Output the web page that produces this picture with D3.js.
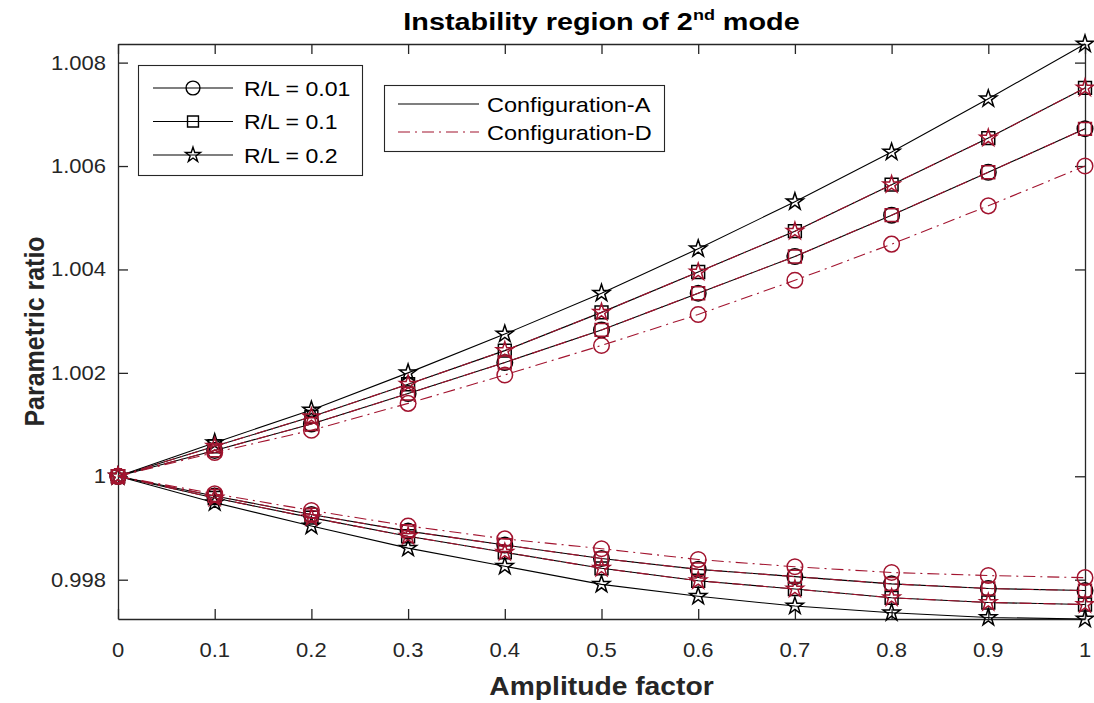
<!DOCTYPE html>
<html>
<head>
<meta charset="utf-8">
<script src="https://cdn.jsdelivr.net/npm/d3@7"></script>
<style>
  html, body { margin: 0; padding: 0; background: #fff; }
  svg { display: block; font-family: "Liberation Sans", Arial, Helvetica, sans-serif; }
</style>
</head>
<body>
<svg id="chart" width="1094" height="703"></svg>
<script>
// Amplitude factor sampled at eleven points
const amplitude = [0, 0.1, 0.2, 0.3, 0.4, 0.5, 0.6, 0.7, 0.8, 0.9, 1];

// Configuration-A, upper and lower boundaries of the instability region
const configA_upper_rl001 = [1, 1.00050, 1.00101, 1.00160, 1.00220, 1.00283, 1.00354, 1.00425, 1.00505, 1.00588, 1.00672];
const configA_upper_rl01  = [1, 1.00058, 1.00115, 1.00178, 1.00243, 1.00317, 1.00395, 1.00474, 1.00564, 1.00654, 1.00751];
const configA_upper_rl02  = [1, 1.00065, 1.00128, 1.00200, 1.00275, 1.00354, 1.00440, 1.00531, 1.00627, 1.00730, 1.00836];
const configA_lower_rl001 = [1, 0.99962, 0.99926, 0.99894, 0.99867, 0.99841, 0.99820, 0.99806, 0.99792, 0.99783, 0.99779];
const configA_lower_rl01  = [1, 0.99958, 0.99920, 0.99884, 0.99853, 0.99822, 0.99798, 0.99782, 0.99765, 0.99756, 0.99752];
const configA_lower_rl02  = [1, 0.99949, 0.99904, 0.99861, 0.99826, 0.99791, 0.99768, 0.99749, 0.99736, 0.99727, 0.99724];

// Configuration-D, upper and lower boundaries
const configD_upper_rl001 = [1, 1.00046, 1.00089, 1.00141, 1.00196, 1.00253, 1.00313, 1.00379, 1.00449, 1.00523, 1.00600];
const configD_upper_rl01  = [1, 1.00050, 1.00101, 1.00160, 1.00220, 1.00283, 1.00354, 1.00425, 1.00505, 1.00588, 1.00672];
const configD_upper_rl02  = [1, 1.00058, 1.00115, 1.00178, 1.00243, 1.00317, 1.00395, 1.00474, 1.00564, 1.00654, 1.00751];
const configD_lower_rl001 = [1, 0.99966, 0.99934, 0.99904, 0.99879, 0.99860, 0.99839, 0.99825, 0.99814, 0.99808, 0.99804];
const configD_lower_rl01  = [1, 0.99962, 0.99926, 0.99894, 0.99867, 0.99841, 0.99820, 0.99806, 0.99792, 0.99783, 0.99779];
const configD_lower_rl02  = [1, 0.99958, 0.99920, 0.99884, 0.99853, 0.99822, 0.99798, 0.99782, 0.99765, 0.99756, 0.99752];

const rlLabels = ["R/L = 0.01", "R/L = 0.1", "R/L = 0.2"];
const configLabels = ["Configuration-A", "Configuration-D"];
const xTicks = [0, 0.1, 0.2, 0.3, 0.4, 0.5, 0.6, 0.7, 0.8, 0.9, 1];
const yTicks = [0.998, 1, 1.002, 1.004, 1.006, 1.008];
const titleMain = "Instability region of 2";
const titleSup = "nd";
const titleEnd = " mode";
const xLabel = "Amplitude factor";
const yLabel = "Parametric ratio";

// ---- layout ----
const svg = d3.select("#chart");
const plot = { left: 118, right: 1085, top: 44, bottom: 619 };
const axisColor = "#262626";
const colorA = "#000000";
const colorD = "#A2142F";
const dashD = "12,5,2,5";

const allValues = [].concat(
  configA_upper_rl001, configA_upper_rl01, configA_upper_rl02,
  configA_lower_rl001, configA_lower_rl01, configA_lower_rl02,
  configD_upper_rl001, configD_upper_rl01, configD_upper_rl02,
  configD_lower_rl001, configD_lower_rl01, configD_lower_rl02);

const x = d3.scaleLinear().domain([0, 1]).range([plot.left, plot.right]);
const y = d3.scaleLinear().domain(d3.extent(allValues)).range([plot.bottom, plot.top]);

const markerShapes = [
  d3.symbol().type(d3.symbolCircle).size(190),
  d3.symbol().type(d3.symbolSquare).size(165),
  d3.symbol().type(d3.symbolStar).size(90)
];

// text helper: glyphs widened horizontally by sx
function label(g, px, py, str, opts) {
  return g.append("text")
    .attr("transform", `translate(${px},${py}) scale(${opts.sx},1)`)
    .attr("font-size", opts.size)
    .attr("font-weight", opts.weight || "normal")
    .attr("fill", opts.fill || axisColor)
    .attr("text-anchor", opts.anchor || "start")
    .text(str);
}

// ---- axes box and ticks ----
const axes = svg.append("g");
const tickLen = 10;
const xAxisBottom = d3.axisBottom(x).tickValues(xTicks).tickSizeInner(-tickLen).tickSizeOuter(0).tickFormat("");
const xAxisTop = d3.axisTop(x).tickValues(xTicks).tickSizeInner(-tickLen).tickSizeOuter(0).tickFormat("");
const yAxisLeft = d3.axisLeft(y).tickValues(yTicks).tickSizeInner(-tickLen).tickSizeOuter(0).tickFormat("");
const yAxisRight = d3.axisRight(y).tickValues(yTicks).tickSizeInner(-tickLen).tickSizeOuter(0).tickFormat("");

function styleAxis(sel) {
  sel.select(".domain").attr("stroke", axisColor).attr("stroke-width", 1.3);
  sel.selectAll(".tick line").attr("stroke", axisColor).attr("stroke-width", 1.3);
}
axes.append("g").attr("transform", `translate(0,${plot.bottom})`).call(xAxisBottom).call(styleAxis);
axes.append("g").attr("transform", `translate(0,${plot.top})`).call(xAxisTop).call(styleAxis);
axes.append("g").attr("transform", `translate(${plot.left},0)`).call(yAxisLeft).call(styleAxis);
axes.append("g").attr("transform", `translate(${plot.right},0)`).call(yAxisRight).call(styleAxis);

// tick labels
const fmtX = d => String(+d.toFixed(1));
const fmtY = d => String(+d.toFixed(3));
xTicks.forEach(v => label(axes, x(v), 657, fmtX(v), { size: 20, sx: 1.1, anchor: "middle" }));
yTicks.forEach(v => label(axes, plot.left - 12, y(v) + 7, fmtY(v), { size: 20, sx: 1.1, anchor: "end" }));

// ---- data series ----
const series = [
  { values: configA_upper_rl001, color: colorA, dash: null, shape: 0 },
  { values: configA_lower_rl001, color: colorA, dash: null, shape: 0 },
  { values: configA_upper_rl01,  color: colorA, dash: null, shape: 1 },
  { values: configA_lower_rl01,  color: colorA, dash: null, shape: 1 },
  { values: configA_upper_rl02,  color: colorA, dash: null, shape: 2 },
  { values: configA_lower_rl02,  color: colorA, dash: null, shape: 2 },
  { values: configD_upper_rl001, color: colorD, dash: dashD, shape: 0 },
  { values: configD_lower_rl001, color: colorD, dash: dashD, shape: 0 },
  { values: configD_upper_rl01,  color: colorD, dash: dashD, shape: 1 },
  { values: configD_lower_rl01,  color: colorD, dash: dashD, shape: 1 },
  { values: configD_upper_rl02,  color: colorD, dash: dashD, shape: 2 },
  { values: configD_lower_rl02,  color: colorD, dash: dashD, shape: 2 }
];

const line = d3.line().x((d, i) => x(amplitude[i])).y(d => y(d));
const plotG = svg.append("g");
series.forEach(s => {
  const g = plotG.append("g");
  g.append("path")
    .attr("d", line(s.values))
    .attr("fill", "none")
    .attr("stroke", s.color)
    .attr("stroke-width", 1.1)
    .attr("stroke-dasharray", s.dash);
  g.selectAll("path.mk").data(s.values).join("path")
    .attr("class", "mk")
    .attr("transform", (d, i) => `translate(${x(amplitude[i])},${y(d)})`)
    .attr("d", markerShapes[s.shape]())
    .attr("fill", "none")
    .attr("stroke", s.color)
    .attr("stroke-width", 1.5);
});

// ---- legend: R/L markers ----
const leg1 = svg.append("g");
leg1.append("rect").attr("x", 138.5).attr("y", 65.5).attr("width", 224).attr("height", 110)
  .attr("fill", "#fff").attr("stroke", axisColor).attr("stroke-width", 1.1);
const legendShapes = [
  d3.symbol().type(d3.symbolCircle).size(150),
  d3.symbol().type(d3.symbolSquare).size(120),
  d3.symbol().type(d3.symbolStar).size(70)
];
rlLabels.forEach((t, i) => {
  const ry = 88 + i * 33.5;
  leg1.append("line").attr("x1", 153).attr("x2", 233).attr("y1", ry).attr("y2", ry)
    .attr("stroke", "#000").attr("stroke-width", 1.1);
  leg1.append("path").attr("transform", `translate(193,${ry})`)
    .attr("d", legendShapes[i]()).attr("fill", "none").attr("stroke", "#000").attr("stroke-width", 1.4);
  label(leg1, 244, ry + 7.5, t, { size: 21, sx: 1.1, fill: "#000" });
});

// ---- legend: configurations ----
const leg2 = svg.append("g");
leg2.append("rect").attr("x", 384.5).attr("y", 85.5).attr("width", 280).attr("height", 66)
  .attr("fill", "#fff").attr("stroke", axisColor).attr("stroke-width", 1.1);
configLabels.forEach((t, i) => {
  const ry = 104 + i * 28;
  leg2.append("line").attr("x1", 398).attr("x2", 479).attr("y1", ry).attr("y2", ry)
    .attr("stroke", i === 0 ? colorA : colorD).attr("stroke-width", 1.1)
    .attr("stroke-dasharray", i === 0 ? null : dashD);
  label(leg2, 487, ry + 7.5, t, { size: 21, sx: 1.12, fill: "#000" });
});

// ---- titles ----
const title = svg.append("text")
  .attr("transform", `translate(${(plot.left + plot.right) / 2},30) scale(1.2,1)`)
  .attr("text-anchor", "middle")
  .attr("font-size", 24)
  .attr("font-weight", "bold")
  .attr("fill", "#000");
title.append("tspan").text(titleMain);
title.append("tspan").attr("font-size", 15).attr("dy", -10).text(titleSup);
title.append("tspan").attr("dy", 10).text(titleEnd);

label(svg, (plot.left + plot.right) / 2, 695, xLabel, { size: 25, sx: 1.13, weight: "bold", anchor: "middle", fill: "#262626" });

svg.append("text")
  .attr("transform", `translate(44,${(plot.top + plot.bottom) / 2}) rotate(-90) scale(1,1.13)`)
  .attr("text-anchor", "middle")
  .attr("font-size", 25)
  .attr("font-weight", "bold")
  .attr("fill", "#262626")
  .text(yLabel);
</script>
</body>
</html>
